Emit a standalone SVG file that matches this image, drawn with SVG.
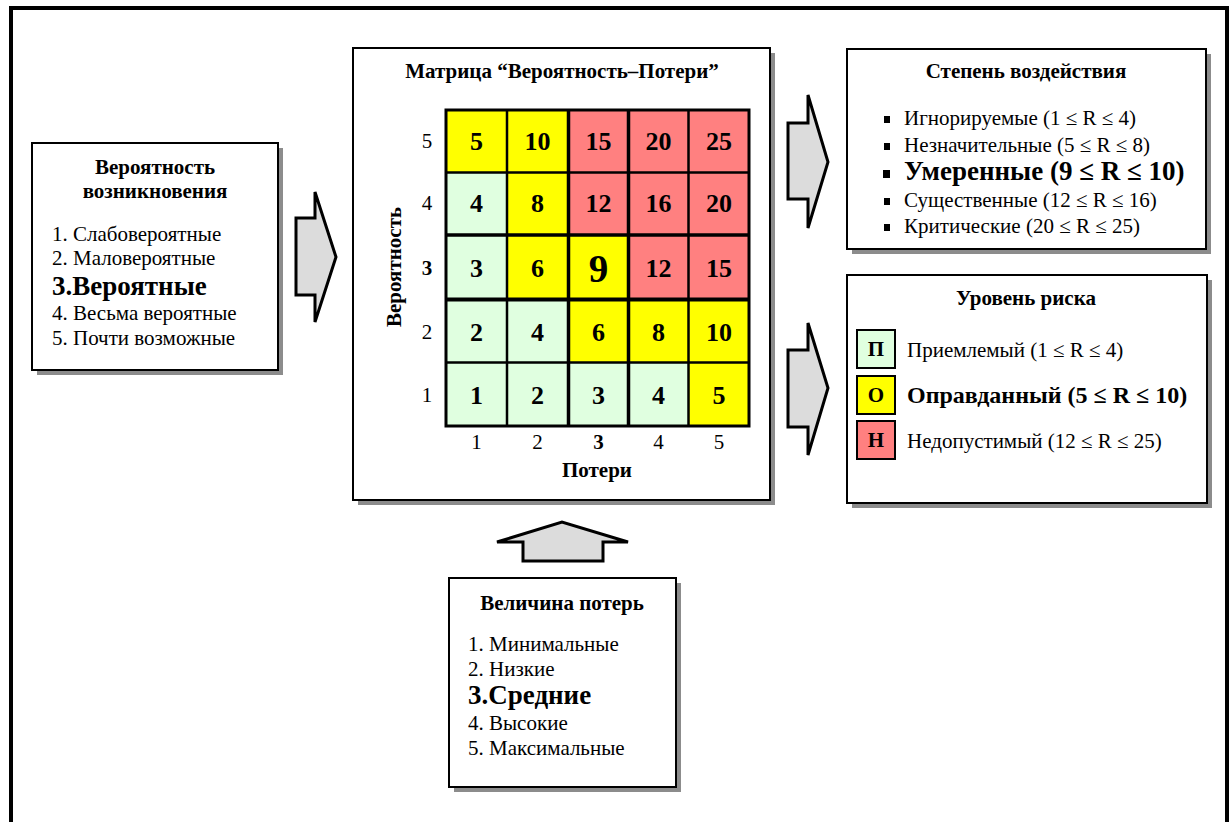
<svg xmlns="http://www.w3.org/2000/svg" width="1229" height="822" viewBox="0 0 1229 822">
  <style>
    text { font-family: "Liberation Serif", "Times New Roman", serif; fill: #000; }
    .box { fill: #fff; stroke: #000; stroke-width: 2; }
    .shadow { fill: #8c8c8c; }
    .title { font-size: 21px; font-weight: bold; text-anchor: middle; }
    .item { font-size: 21px; }
    .item-b { font-size: 27px; font-weight: bold; }
    .arrow { fill: #dcdcdc; stroke: #000; stroke-width: 3; stroke-linejoin: miter; }
    .g { fill: #e0ffe0; }
    .y { fill: #ffff00; }
    .r { fill: #ff8080; }
    .num { font-size: 26px; font-weight: bold; text-anchor: middle; }
    .num-big { font-size: 39px; font-weight: bold; text-anchor: middle; }
    .axis { font-size: 21px; text-anchor: middle; }
    .axis-b { font-size: 21px; font-weight: bold; text-anchor: middle; }
    .legend-b { font-size: 24px; font-weight: bold; }
    .grid { stroke: #000; stroke-width: 2.5; }
    .grid-mid { stroke: #000; stroke-width: 3.5; }
    .grid-thick { stroke: #000; stroke-width: 4; }
    .bullet { fill: #000; }
    .lg { stroke: #000; stroke-width: 2; }
  </style>

  <!-- outer frame -->
  <rect x="11" y="8" width="1216" height="830" fill="#fff" stroke="#000" stroke-width="4"/>

  <!-- connectors: block arrows -->
  <g id="connectors">
    <polygon class="arrow" points="296,218 315,218 315,192 336,257 315,322 315,295 296,295"/>
    <polygon class="arrow" points="788,123 808,123 808,95 828,162 808,228 808,199 788,199"/>
    <polygon class="arrow" points="788,350 808,350 808,323 828,388 808,455 808,427 788,427"/>
    <polygon class="arrow" points="523,561 523,542 497,542 562,522 628,542 603,542 603,561"/>
  </g>

  <!-- probability of occurrence -->
  <g id="probability">
    <rect class="shadow" x="37" y="148" width="246" height="227"/>
    <rect class="box" x="32" y="143" width="246" height="227"/>
    <text class="title" x="155" y="174">Вероятность</text>
    <text class="title" x="155" y="198">возникновения</text>
    <text class="item" x="52" y="241">1. Слабовероятные</text>
    <text class="item" x="52" y="265">2. Маловероятные</text>
    <text class="item-b" x="52" y="295">3.Вероятные</text>
    <text class="item" x="52" y="320">4. Весьма вероятные</text>
    <text class="item" x="52" y="345">5. Почти возможные</text>
  </g>

  <!-- probability / loss matrix -->
  <g id="matrix">
    <rect class="shadow" x="358" y="53" width="417" height="452"/>
    <rect class="box" x="353" y="48" width="417" height="452"/>
    <text class="title" x="562" y="78">Матрица “Вероятность–Потери”</text>

    <!-- row 5 -->
    <rect class="y" x="446" y="110" width="61" height="62.5"/>
    <rect class="y" x="507" y="110" width="61.5" height="62.5"/>
    <rect class="r" x="568.5" y="110" width="60" height="62.5"/>
    <rect class="r" x="628.5" y="110" width="60" height="62.5"/>
    <rect class="r" x="688.5" y="110" width="60.5" height="62.5"/>
    <!-- row 4 -->
    <rect class="g" x="446" y="172.5" width="61" height="62.5"/>
    <rect class="y" x="507" y="172.5" width="61.5" height="62.5"/>
    <rect class="r" x="568.5" y="172.5" width="60" height="62.5"/>
    <rect class="r" x="628.5" y="172.5" width="60" height="62.5"/>
    <rect class="r" x="688.5" y="172.5" width="60.5" height="62.5"/>
    <!-- row 3 -->
    <rect class="g" x="446" y="235" width="61" height="64.5"/>
    <rect class="y" x="507" y="235" width="61.5" height="64.5"/>
    <rect class="y" x="568.5" y="235" width="60" height="64.5"/>
    <rect class="r" x="628.5" y="235" width="60" height="64.5"/>
    <rect class="r" x="688.5" y="235" width="60.5" height="64.5"/>
    <!-- row 2 -->
    <rect class="g" x="446" y="299.5" width="61" height="63"/>
    <rect class="g" x="507" y="299.5" width="61.5" height="63"/>
    <rect class="y" x="568.5" y="299.5" width="60" height="63"/>
    <rect class="y" x="628.5" y="299.5" width="60" height="63"/>
    <rect class="y" x="688.5" y="299.5" width="60.5" height="63"/>
    <!-- row 1 -->
    <rect class="g" x="446" y="362.5" width="61" height="63.5"/>
    <rect class="g" x="507" y="362.5" width="61.5" height="63.5"/>
    <rect class="g" x="568.5" y="362.5" width="60" height="63.5"/>
    <rect class="g" x="628.5" y="362.5" width="60" height="63.5"/>
    <rect class="y" x="688.5" y="362.5" width="60.5" height="63.5"/>

    <!-- grid lines -->
    <line class="grid" x1="446" y1="172.5" x2="749" y2="172.5"/>
    <line class="grid" x1="446" y1="362.5" x2="749" y2="362.5"/>
    <line class="grid" x1="507" y1="110" x2="507" y2="426"/>
    <line class="grid" x1="688.5" y1="110" x2="688.5" y2="426"/>
    <line class="grid-mid" x1="446" y1="235" x2="749" y2="235"/>
    <line class="grid-thick" x1="446" y1="299.5" x2="749" y2="299.5"/>
    <line class="grid-mid" x1="568.5" y1="110" x2="568.5" y2="426"/>
    <line class="grid-mid" x1="628.5" y1="110" x2="628.5" y2="426"/>
    <rect x="446" y="110" width="303" height="316" fill="none" stroke="#000" stroke-width="3"/>

    <!-- cell values -->
    <text class="num" x="476.5" y="150">5</text>
    <text class="num" x="537.5" y="150">10</text>
    <text class="num" x="598.5" y="150">15</text>
    <text class="num" x="658.5" y="150">20</text>
    <text class="num" x="719" y="150">25</text>

    <text class="num" x="476.5" y="212">4</text>
    <text class="num" x="537.5" y="212">8</text>
    <text class="num" x="598.5" y="212">12</text>
    <text class="num" x="658.5" y="212">16</text>
    <text class="num" x="719" y="212">20</text>

    <text class="num" x="476.5" y="277">3</text>
    <text class="num" x="537.5" y="277">6</text>
    <text class="num-big" x="598.5" y="282">9</text>
    <text class="num" x="658.5" y="277">12</text>
    <text class="num" x="719" y="277">15</text>

    <text class="num" x="476.5" y="341">2</text>
    <text class="num" x="537.5" y="341">4</text>
    <text class="num" x="598.5" y="341">6</text>
    <text class="num" x="658.5" y="341">8</text>
    <text class="num" x="719" y="341">10</text>

    <text class="num" x="476.5" y="404">1</text>
    <text class="num" x="537.5" y="404">2</text>
    <text class="num" x="598.5" y="404">3</text>
    <text class="num" x="658.5" y="404">4</text>
    <text class="num" x="719" y="404">5</text>

    <!-- probability axis -->
    <text class="axis" x="427" y="148">5</text>
    <text class="axis" x="427" y="210">4</text>
    <text class="axis-b" x="427" y="275">3</text>
    <text class="axis" x="427" y="339">2</text>
    <text class="axis" x="427" y="402">1</text>
    <text class="title" transform="translate(401,267) rotate(-90)">Вероятность</text>

    <!-- loss axis -->
    <text class="axis" x="476.5" y="449">1</text>
    <text class="axis" x="537.5" y="449">2</text>
    <text class="axis-b" x="598.5" y="449">3</text>
    <text class="axis" x="658.5" y="449">4</text>
    <text class="axis" x="719" y="449">5</text>
    <text class="title" x="597" y="477">Потери</text>
  </g>

  <!-- impact degree -->
  <g id="impact">
    <rect class="shadow" x="852" y="54" width="359" height="200"/>
    <rect class="box" x="847" y="49" width="359" height="200"/>
    <text class="title" x="1026" y="78">Степень воздействия</text>
    <rect class="bullet" x="884" y="116" width="6" height="7"/>
    <text class="item" x="904" y="125">Игнорируемые (1 ≤ R ≤ 4)</text>
    <rect class="bullet" x="884" y="143" width="6" height="7"/>
    <text class="item" x="904" y="152">Незначительные (5 ≤ R ≤ 8)</text>
    <rect class="bullet" x="883" y="170" width="7" height="8"/>
    <text class="item-b" x="904" y="180">Умеренные (9 ≤ R ≤ 10)</text>
    <rect class="bullet" x="884" y="198" width="6" height="7"/>
    <text class="item" x="904" y="207">Существенные (12 ≤ R ≤ 16)</text>
    <rect class="bullet" x="884" y="224" width="6" height="7"/>
    <text class="item" x="904" y="233">Критические (20 ≤ R ≤ 25)</text>
  </g>

  <!-- risk level -->
  <g id="risk-level">
    <rect class="shadow" x="852" y="280" width="360" height="228"/>
    <rect class="box" x="847" y="275" width="360" height="228"/>
    <text class="title" x="1026" y="305">Уровень риска</text>
    <rect class="lg g" x="857" y="330" width="38" height="38"/>
    <text class="title" x="876" y="356">П</text>
    <text class="item" x="907" y="357">Приемлемый (1 ≤ R ≤ 4)</text>
    <rect class="lg y" x="857" y="376" width="38" height="38"/>
    <text class="title" x="876" y="402">О</text>
    <text class="legend-b" x="907" y="403">Оправданный (5 ≤ R ≤ 10)</text>
    <rect class="lg r" x="857" y="421" width="38" height="38"/>
    <text class="title" x="876" y="447">Н</text>
    <text class="item" x="907" y="448">Недопустимый (12 ≤ R ≤ 25)</text>
  </g>

  <!-- loss magnitude -->
  <g id="loss">
    <rect class="shadow" x="454" y="583" width="227" height="209"/>
    <rect class="box" x="449" y="578" width="227" height="209"/>
    <text class="title" x="562" y="610">Величина потерь</text>
    <text class="item" x="468" y="651">1. Минимальные</text>
    <text class="item" x="468" y="676">2. Низкие</text>
    <text class="item-b" x="468" y="704">3.Средние</text>
    <text class="item" x="468" y="730">4. Высокие</text>
    <text class="item" x="468" y="755">5. Максимальные</text>
  </g>
</svg>
